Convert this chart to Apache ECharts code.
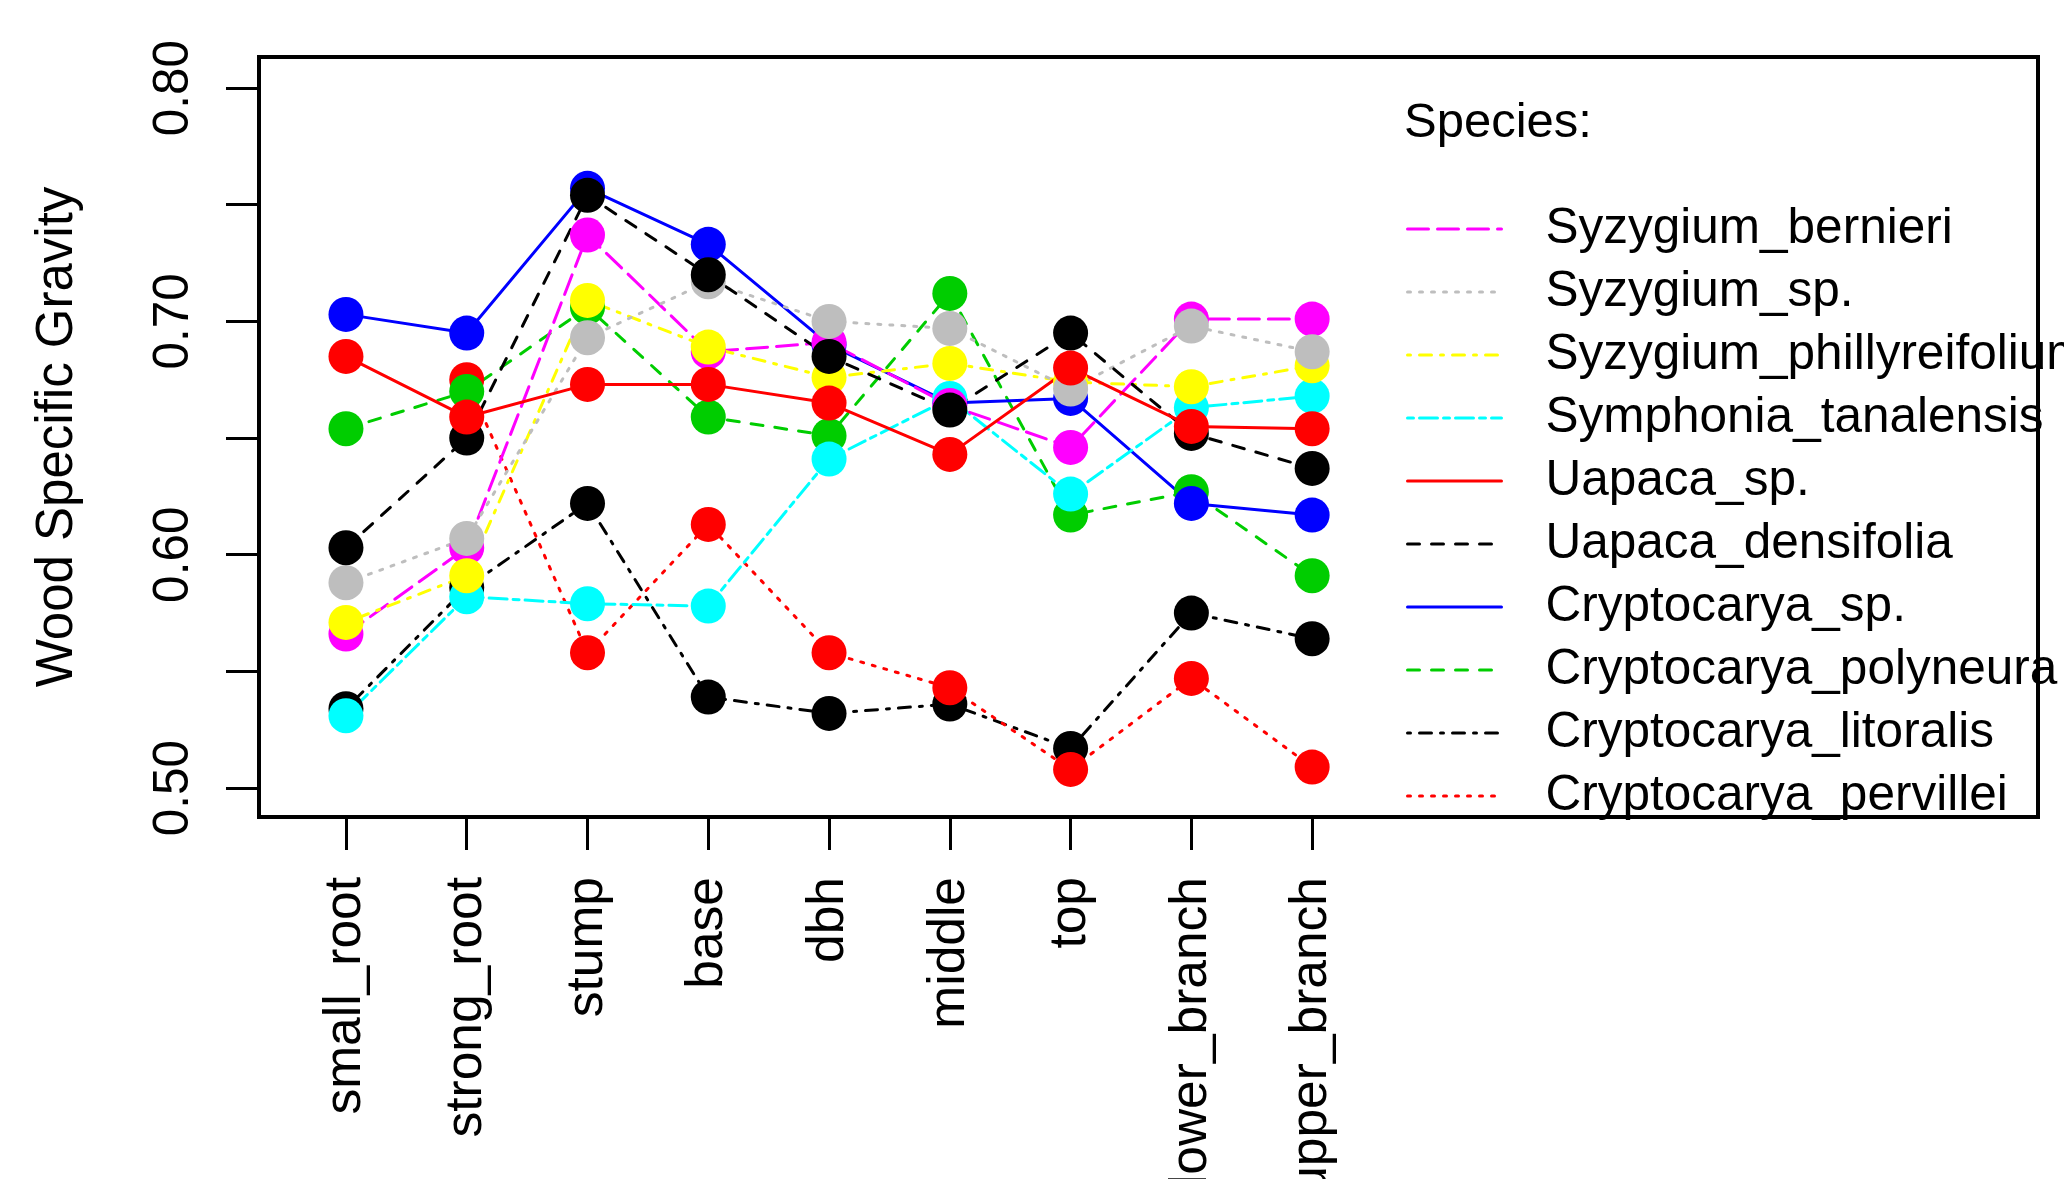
<!DOCTYPE html>
<html>
<head>
<meta charset="utf-8">
<title>Wood Specific Gravity</title>
<script src="https://cdn.jsdelivr.net/npm/echarts@6/dist/echarts.min.js"></script>
<style>
  html, body { margin: 0; padding: 0; background: #fff; }
  #chart { width: 2064px; height: 1179px; }
</style>
</head>
<body>
<div id="chart"></div>
<script>
// tree parts along the x axis
const parts = ['small_root', 'strong_root', 'stump', 'base', 'dbh', 'middle', 'top', 'lower_branch', 'upper_branch'];
const yTicks = [0.50, 0.55, 0.60, 0.65, 0.70, 0.75, 0.80];
const yLabels = [0.50, 0.60, 0.70, 0.80];

// wood specific gravity per part (null = not measured)
const syzygiumBernieri        = [0.566, 0.603, 0.737, 0.687, 0.691, 0.664, 0.646, 0.701, 0.701];
const syzygiumSp              = [0.588, 0.607, 0.693, 0.717, 0.700, 0.697, 0.671, 0.698, 0.687];
const syzygiumPhillyreifolium = [0.571, 0.591, 0.709, 0.689, 0.676, 0.682, 0.674, 0.672, 0.681];
const symphoniaTanalensis     = [0.531, 0.582, 0.579, 0.578, 0.641, 0.667, 0.626, 0.663, 0.668];
const uapacaSp                = [0.685, 0.659, 0.673, 0.673, 0.665, 0.643, 0.680, 0.655, 0.654];
const uapacaDensifolia        = [0.603, 0.650, 0.754, 0.720, 0.685, 0.662, 0.695, 0.652, 0.637];
const cryptocaryaSp           = [0.703, 0.695, 0.757, 0.733, 0.690, 0.665, 0.667, 0.622, 0.617];
const cryptocaryaPolyneura    = [0.654, 0.670, 0.706, 0.659, 0.651, 0.712, 0.617, 0.627, 0.591];
const cryptocaryaLitoralis    = [0.534, 0.586, 0.622, 0.539, 0.532, 0.536, 0.517, 0.575, 0.564];
const cryptocaryaPervillei    = [null, 0.675, 0.558, 0.613, 0.558, 0.543, 0.508, 0.547, 0.509];

// legend order
const legendOrder = ['Syzygium_bernieri', 'Syzygium_sp.', 'Syzygium_phillyreifolium', 'Symphonia_tanalensis',
  'Uapaca_sp.', 'Uapaca_densifolia', 'Cryptocarya_sp.', 'Cryptocarya_polyneura', 'Cryptocarya_litoralis', 'Cryptocarya_pervillei'];

// R lty patterns, unit 3px
const u = 3;
const LONGDASH = [7 * u, 3 * u], DOTTED = [1 * u, 3 * u], DOTDASH = [1 * u, 3 * u, 4 * u, 3 * u],
      TWODASH = [2 * u, 2 * u, 6 * u, 2 * u], DASHED = [4 * u, 4 * u];

// drawn in alphabetical order (as in the original plot)
const seriesDefs = [
  { name: 'Cryptocarya_litoralis',    values: cryptocaryaLitoralis,    color: '#000000', dash: DOTDASH },
  { name: 'Cryptocarya_pervillei',    values: cryptocaryaPervillei,    color: '#FF0000', dash: DOTTED },
  { name: 'Cryptocarya_polyneura',    values: cryptocaryaPolyneura,    color: '#00CD00', dash: DASHED },
  { name: 'Cryptocarya_sp.',          values: cryptocaryaSp,           color: '#0000FF', dash: 'solid' },
  { name: 'Symphonia_tanalensis',     values: symphoniaTanalensis,     color: '#00FFFF', dash: TWODASH },
  { name: 'Syzygium_bernieri',        values: syzygiumBernieri,        color: '#FF00FF', dash: LONGDASH },
  { name: 'Syzygium_phillyreifolium', values: syzygiumPhillyreifolium, color: '#FFFF00', dash: DOTDASH },
  { name: 'Syzygium_sp.',             values: syzygiumSp,              color: '#BEBEBE', dash: DOTTED },
  { name: 'Uapaca_densifolia',        values: uapacaDensifolia,        color: '#000000', dash: DASHED },
  { name: 'Uapaca_sp.',               values: uapacaSp,                color: '#FF0000', dash: 'solid' }
];

const FONT = 'Liberation Sans, Arial, sans-serif';

const chart = echarts.init(document.getElementById('chart'));

chart.setOption({
  animation: false,
  backgroundColor: '#ffffff',
  title: {
    text: 'Species:',
    left: 1404, top: 99, padding: 0,
    textStyle: { fontFamily: FONT, fontSize: 49, fontWeight: 'normal', color: '#000', lineHeight: 48 }
  },
  legend: {
    data: legendOrder,
    orient: 'vertical',
    left: 1406, top: 204, padding: 0,
    itemWidth: 94, itemHeight: 48, itemGap: 13,
    itemStyle: { opacity: 0 },
    lineStyle: { width: 3 },
    selectedMode: false,
    textStyle: { fontFamily: FONT, fontSize: 49.5, color: '#000', lineHeight: 48, padding: [0, 0, 0, 39] }
  },
  grid: {
    left: 259, right: 26, top: 57, bottom: 362,
    show: true, borderColor: '#000', borderWidth: 4, backgroundColor: 'transparent',
    containLabel: false, outerBoundsMode: 'none'
  },
  xAxis: {
    type: 'value',
    min: 0.28, max: 15.01,
    axisLine: { show: false },
    splitLine: { show: false },
    axisTick: { show: true, inside: false, length: 33, customValues: parts.map((p, i) => i + 1),
      lineStyle: { color: '#000', width: 3 } },
    axisLabel: {
      customValues: parts.map((p, i) => i + 1),
      formatter: v => parts[Math.round(v) - 1] || '',
      rotate: 90, margin: 60,
      fontFamily: FONT, fontSize: 51.5, color: '#000'
    }
  },
  yAxis: {
    type: 'value',
    min: 0.4876, max: 0.8133,
    name: 'Wood Specific Gravity',
    nameLocation: 'middle', nameRotate: 90, nameGap: 176,
    nameTextStyle: { fontFamily: FONT, fontSize: 51, color: '#000' },
    axisLine: { show: false },
    splitLine: { show: false },
    axisTick: { show: true, inside: false, length: 33, customValues: yTicks,
      lineStyle: { color: '#000', width: 3 } },
    axisLabel: {
      customValues: yLabels,
      formatter: v => v.toFixed(2),
      rotate: 90, margin: 60,
      fontFamily: FONT, fontSize: 49.5, color: '#000'
    }
  },
  series: seriesDefs.map(s => ({
    name: s.name,
    type: 'line',
    data: s.values.map((v, i) => [i + 1, v]),
    connectNulls: false,
    symbol: 'circle',
    symbolSize: 35,
    showSymbol: true,
    itemStyle: { color: s.color, borderWidth: 0 },
    lineStyle: { color: s.color, width: 3, type: s.dash, cap: 'round' },
    emphasis: { disabled: true },
    silent: true
  }))
});
</script>
</body>
</html>
